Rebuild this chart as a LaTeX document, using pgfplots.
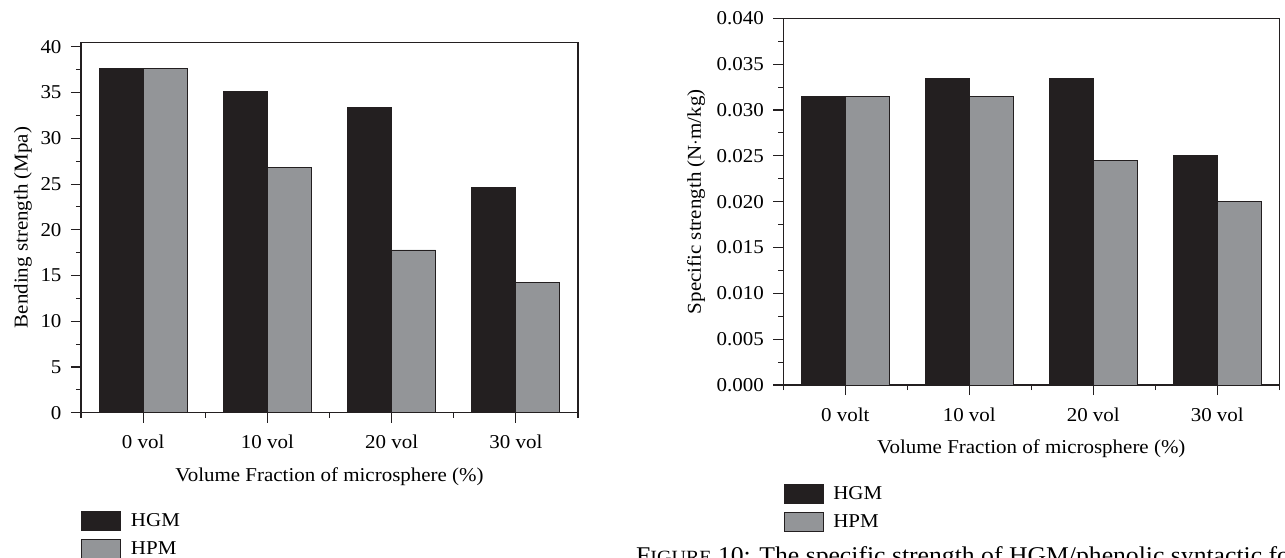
\documentclass[border=0pt]{standalone}
\usepackage{fontspec}
\setmainfont{Liberation Serif}[FakeStretch=1.07]
\usepackage{pgfplots}
\pgfplotsset{compat=1.18}

\definecolor{barblack}{HTML}{231F20}
\definecolor{bargrey}{HTML}{939598}
\definecolor{inkline}{HTML}{231F20}

\newcommand\chartfont{\fontsize{19.6bp}{23bp}\selectfont}
\newcommand\captionfont{\fontsize{24bp}{28bp}\selectfont}
\newcommand\capsfont{\fontsize{18.7bp}{22bp}\selectfont}

% Bending strength (MPa) of the syntactic foams
\pgfplotstableread{
pos hgm hpm
0 37.6 37.6
1 35.1 26.8
2 33.4 17.8
3 24.6 14.2
}\bendingdata

% Specific strength (N.m/kg)
\pgfplotstableread{
pos hgm hpm
0 0.0315 0.0315
1 0.0334 0.0315
2 0.0334 0.0245
3 0.0250 0.0200
}\specificdata

\pgfplotsset{
  panel/.style={
    scale only axis, width=497bp,
    ybar=0pt, bar width=44bp,
    xmin=-0.5, xmax=3.5, ymin=0,
    xtick={0,1,2,3}, minor xtick={-0.5,0.5,1.5,2.5,3.5},
    minor y tick num=1,
    tick align=outside, xtick pos=bottom, ytick pos=left,
    major tick length=10bp, minor tick length=5bp,
    axis line style={draw=inkline, line width=1.1bp},
    every tick/.style={draw=inkline, line width=1.1bp},
    tick label style={font=\chartfont, text=black},
    xticklabel style={yshift=-9bp},
    yticklabel style={xshift=-6bp},
    label style={font=\chartfont, text=black},
    /pgf/number format/assume math mode=true,
    legend cell align=left,
    legend image code/.code={%
      \draw[##1] (0bp,-9.5bp) rectangle (39bp,9.5bp);
      \path (47bp,0bp);},
    legend style={draw=none, fill=none, font=\chartfont, anchor=north west,
      inner sep=0pt, row sep=8bp},
  },
  hgmbar/.style={fill=barblack, draw=inkline, line width=0.8bp},
  hpmbar/.style={fill=bargrey, draw=inkline, line width=0.8bp},
}

\begin{document}
\begin{tikzpicture}
\clip (0bp,0bp) rectangle (1285bp,-558bp);

% Left panel: bending strength
\begin{axis}[panel,
  at={(81bp,-412.7bp)}, anchor=south west,
  height=370.4bp, ymax=40.5,
  ytick={0,5,...,40},
  xticklabels={0 vol,10 vol,20 vol,30 vol},
  ylabel={Bending strength (Mpa)},
  xlabel={Volume Fraction of microsphere (\%)},
  ylabel style={at={(axis description cs:-0.117,0.5)}, anchor=center},
  xlabel style={at={(axis description cs:0.5,-0.173)}, anchor=center},
  legend style={at={(axis description cs:0,-0.265)}},
]
\addplot[hgmbar] table[x=pos, y=hgm] {\bendingdata};
\addplot[hpmbar] table[x=pos, y=hpm] {\bendingdata};
\legend{HGM,HPM}
\end{axis}

% Right panel: specific strength
\begin{axis}[panel,
  at={(783.3bp,-385bp)}, anchor=south west,
  width=496bp, height=366.7bp, ymax=0.04,
  ytick={0,0.005,...,0.0401},
  scaled y ticks=false,
  yticklabel style={/pgf/number format/.cd, fixed, fixed zerofill, precision=3},
  xticklabels={0 volt,10 vol,20 vol,30 vol},
  ylabel={Specific strength (N$\cdot$m/kg)},
  xlabel={Volume Fraction of microsphere (\%)},
  ylabel style={at={(axis description cs:-0.176,0.5)}, anchor=center},
  xlabel style={at={(axis description cs:0.5,-0.173)}, anchor=center},
  legend style={at={(axis description cs:0,-0.27)}},
]
\addplot[hgmbar] table[x=pos, y=hgm] {\specificdata};
\addplot[hpmbar] table[x=pos, y=hpm] {\specificdata};
\legend{HGM,HPM}
\end{axis}

\node[anchor=base west, font=\captionfont, inner sep=0pt] at (636bp,-563bp)
  {F{\capsfont IGURE} 10: The specific strength of HGM/phenolic syntactic foams};
\end{tikzpicture}
\end{document}
